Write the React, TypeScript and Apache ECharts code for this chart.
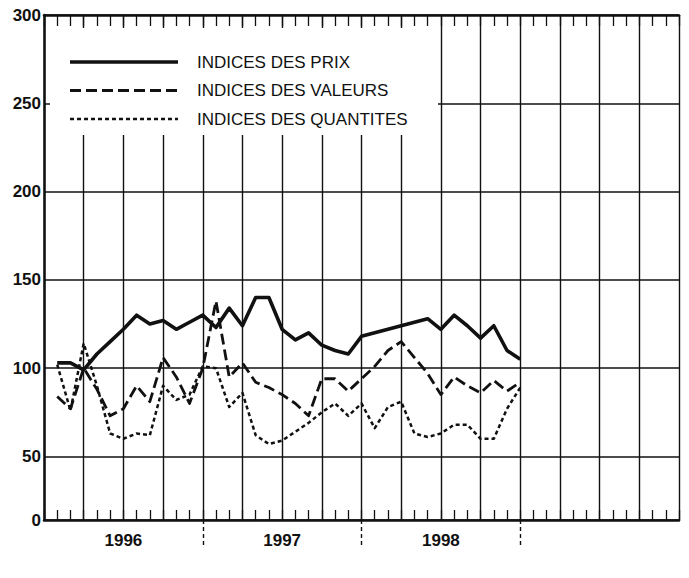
import React, { useEffect, useRef } from 'react';
import * as echarts from 'echarts';

const yearLabels = ['1996', '1997', '1998'];
const seriesNames = ['INDICES DES PRIX', 'INDICES DES VALEURS', 'INDICES DES QUANTITES'];

// monthly values, Jan 1996 .. Dec 1998
const prix = [103, 103, 99, 108, 115, 122, 130, 125, 127, 122, 126, 130,
  123, 134, 124, 140, 140, 122, 116, 120, 113, 110, 108, 118,
  120, 122, 124, 126, 128, 122, 130, 124, 117, 124, 110, 105];
const valeurs = [84, 77, 100, 88, 73, 77, 90, 81, 106, 95, 80, 100,
  138, 95, 103, 92, 89, 85, 80, 73, 94, 94, 87, 94,
  101, 110, 115, 106, 97, 85, 95, 90, 86, 93, 87, 92];
const quantites = [102, 76, 114, 90, 63, 60, 63, 62, 90, 82, 85, 101,
  100, 78, 86, 62, 57, 59, 64, 69, 75, 80, 73, 80,
  66, 78, 81, 63, 61, 63, 68, 68, 60, 60, 77, 89];

// the printed scale is broken below 50: its base line (labelled 0) sits at this value
const yFloor = 14;
const yMax = 300;
const xMax = 48; // four years of months
const yearTicks = [12, 24, 36];
const yearLabelPos = [6, 18, 30];

const INK = '#111';
const FONT = "'Liberation Sans', Arial, Helvetica, sans-serif";

const lineStyles = [
  { width: 3.6, dash: null as number[] | null },
  { width: 2.8, dash: [11, 5] },
  { width: 2.5, dash: [4, 3] },
];

export default function App() {
  const ref = useRef<HTMLDivElement>(null);
  useEffect(() => {
    if (!ref.current) return;
    const chart = echarts.init(ref.current, null, { renderer: 'svg' });
    const toPairs = (arr: number[]) => arr.map((v, i) => [i + 1, v]);
    const dataSets = [prix, valeurs, quantites];
    const legendY = [62, 90.5, 119];
    const legendGraphics: any[] = [];
    seriesNames.forEach((name, i) => {
      legendGraphics.push({
        type: 'line', z: 20,
        shape: { x1: 70, y1: legendY[i], x2: 178, y2: legendY[i] },
        style: { stroke: INK, lineWidth: lineStyles[i].width, lineDash: lineStyles[i].dash || undefined },
      });
      legendGraphics.push({
        type: 'text', z: 20, x: 197, y: legendY[i],
        style: { text: name, font: `17px ${FONT}`, fill: INK, verticalAlign: 'middle', align: 'left' },
      });
    });
    chart.setOption({
      animation: false,
      backgroundColor: '#fff',
      grid: { left: 44, right: 10, top: 15, bottom: 58, containLabel: false },
      graphic: [
        {
          type: 'rect', z: 8,
          shape: { x: 50, y: 28, width: 388, height: 107 },
          style: { fill: '#fff' },
        },
        ...legendGraphics,
      ],
      xAxis: [
        {
          type: 'value', min: 0, max: xMax, interval: 1, position: 'bottom',
          axisLine: { show: true, lineStyle: { color: INK, width: 2.5 } },
          axisTick: { show: true, inside: true, length: 10, lineStyle: { color: INK, width: 1.3 } },
          axisLabel: { show: false },
          splitLine: { show: false },
        },
        {
          type: 'value', min: 0, max: xMax, interval: 3, position: 'bottom',
          axisLine: { show: false }, axisTick: { show: false }, axisLabel: { show: false },
          splitLine: { show: true, lineStyle: { color: INK, width: 1.4 } },
        },
        {
          type: 'value', min: 0, max: xMax, interval: 1, position: 'top',
          axisLine: { show: true, lineStyle: { color: INK, width: 2.5 } },
          axisTick: { show: true, inside: true, length: 11, lineStyle: { color: INK, width: 1.3 } },
          axisLabel: { show: false },
          splitLine: { show: false },
        },
        {
          type: 'value', min: 0, max: xMax, position: 'bottom',
          axisLine: { show: false },
          axisTick: {
            show: true, inside: false, length: 28, customValues: yearTicks,
            lineStyle: { color: INK, width: 1.4, type: [4, 3] },
          },
          axisLabel: {
            show: true, customValues: yearLabelPos, margin: 12,
            fontSize: 17, fontWeight: 'bold', fontFamily: FONT, color: INK,
            formatter: (v: number) => yearLabels[yearLabelPos.indexOf(v)] ?? '',
          },
          splitLine: { show: false },
        },
      ],
      yAxis: [
        {
          type: 'value', min: yFloor, max: yMax, splitNumber: 6,
          axisLine: { show: true, lineStyle: { color: INK, width: 2.5 } },
          axisTick: { show: false },
          axisLabel: {
            fontSize: 17, fontWeight: 'bold', fontFamily: FONT, color: INK, margin: 3,
            showMinLabel: true,
            formatter: (v: number) => (v === yFloor ? '0' : String(v)),
          },
          splitLine: { show: true, lineStyle: { color: INK, width: 1.5 } },
        },
      ],
      series: dataSets.map((arr, i) => ({
        name: seriesNames[i],
        type: 'line',
        xAxisIndex: 0,
        yAxisIndex: 0,
        data: toPairs(arr),
        symbol: 'none',
        showSymbol: false,
        z: 3,
        itemStyle: { color: INK },
        lineStyle: {
          color: INK, width: lineStyles[i].width,
          type: lineStyles[i].dash || 'solid', cap: 'butt', join: 'round',
        },
      })),
    });
    return () => chart.dispose();
  }, []);
  return (
    <div
      ref={ref}
      style={{ position: 'absolute', left: 0, top: 0, width: 689, height: 578, background: '#fff' }}
    />
  );
}
